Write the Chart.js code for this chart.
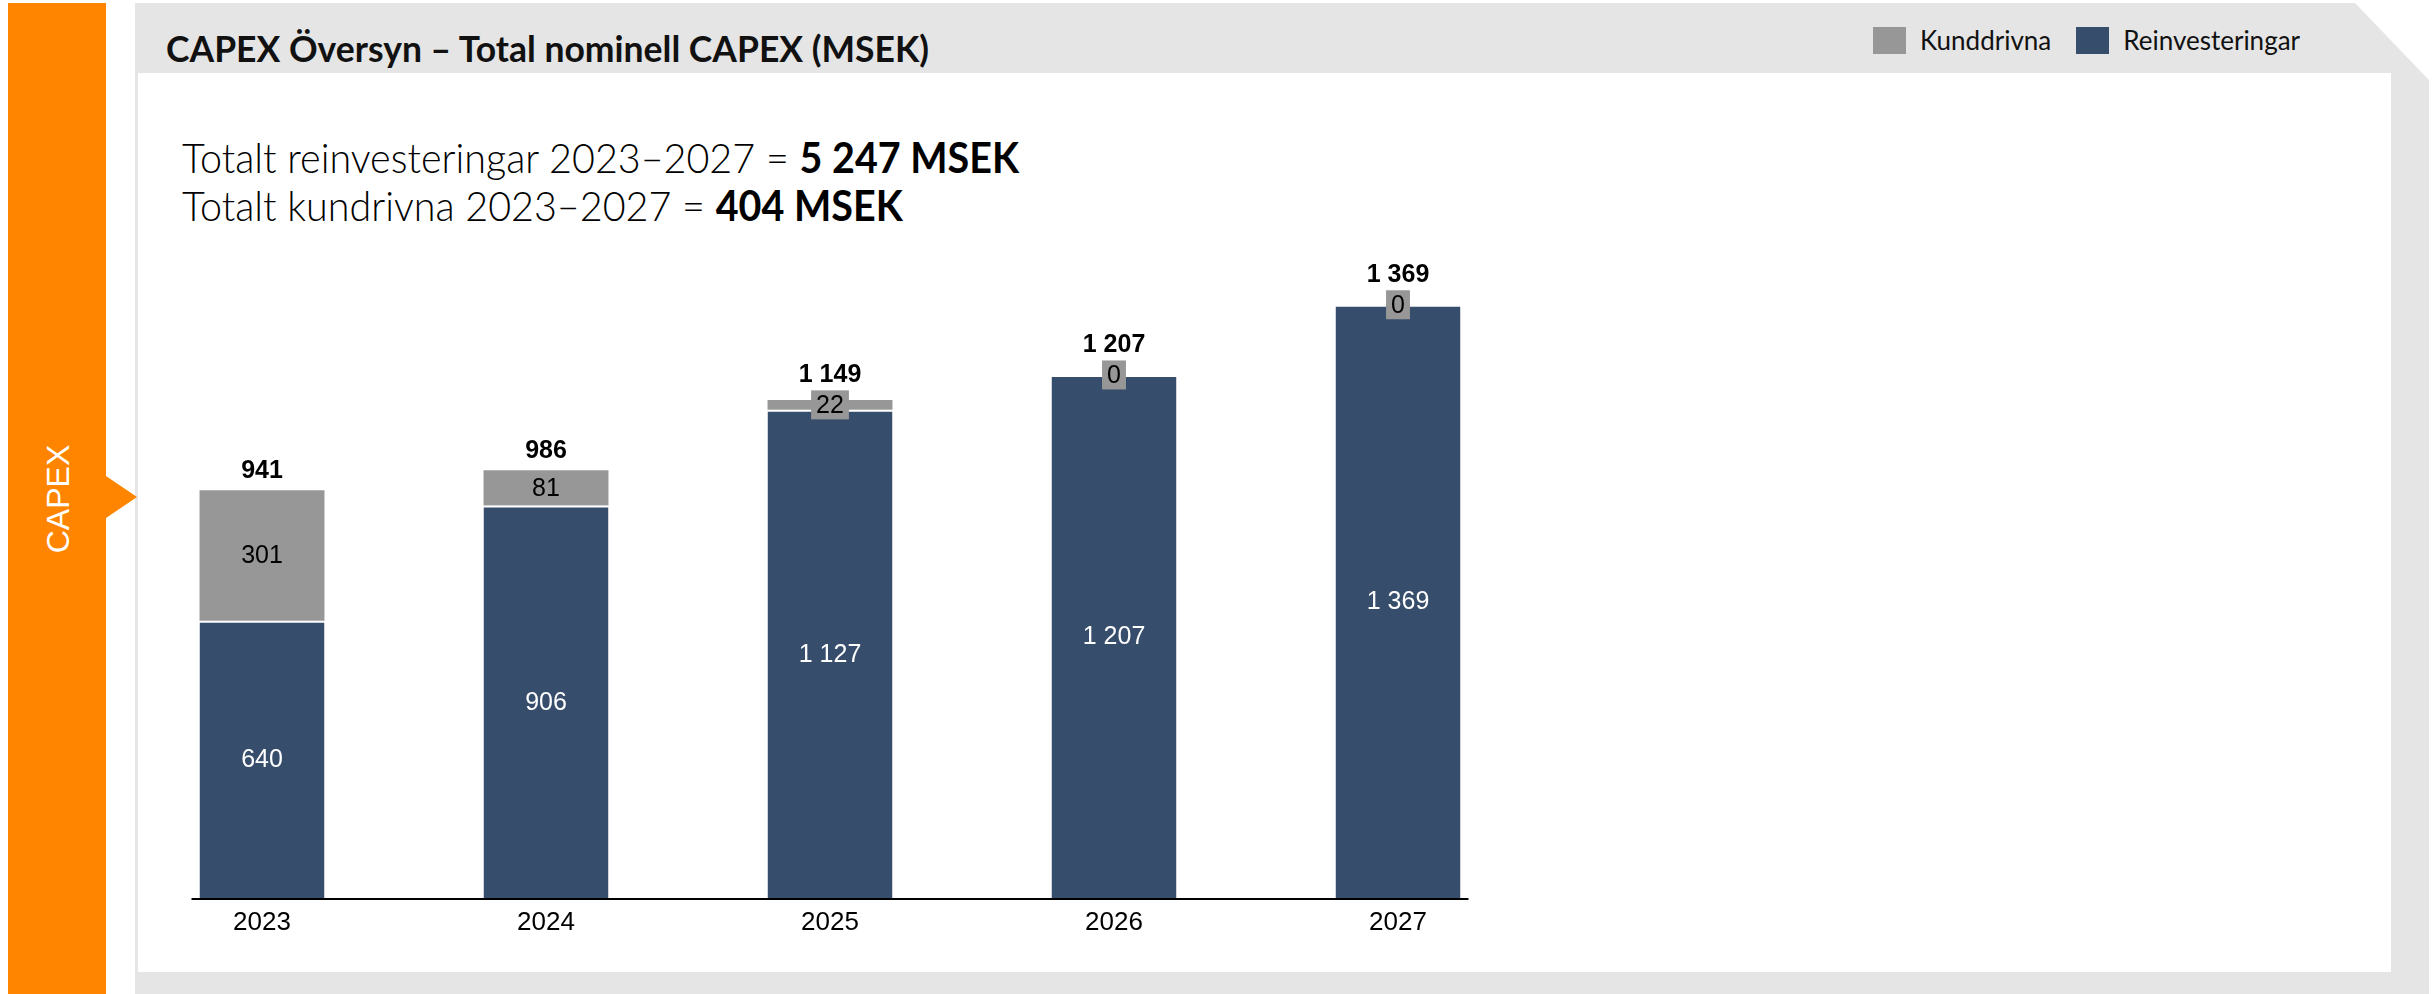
<!DOCTYPE html>
<html lang="sv">
<head>
<meta charset="utf-8">
<title>CAPEX Översyn</title>
<script src="https://cdn.jsdelivr.net/npm/chart.js@4/dist/chart.umd.min.js"></script>
<style>
  html, body { margin: 0; padding: 0; background: #fff; }
  body { width: 2435px; height: 994px; position: relative; overflow: hidden; font-family: Lato, "Noto Sans", sans-serif; }
  .abs { position: absolute; }
  #tab { left: 8px; top: 3px; width: 98px; height: 991px; background: #ff8500; }
  #tab-arrow { left: 106px; top: 476px; width: 0; height: 0; border-left: 31px solid #ff8500; border-top: 21px solid transparent; border-bottom: 21px solid transparent; }
  #tab-label { left: 58px; top: 499px; transform: translate(-50%, -50%) rotate(-90deg); color: #fff; font: 32px "Liberation Sans", Arial, sans-serif; white-space: nowrap; }
  #frame { left: 135px; top: 3px; width: 2294px; height: 991px; background: #e5e5e5; clip-path: polygon(0 0, calc(100% - 74px) 0, 100% 77px, 100% 100%, 0 100%); }
  #panel { left: 138px; top: 73px; width: 2253px; height: 899px; background: #fff; }
  #title { left: 166px; top: 31px; font-weight: 700; font-size: 35.5px; line-height: 36px; color: #111; white-space: nowrap; }
  .sub { left: 182px; font-weight: 300; font-size: 42px; line-height: 42px; color: #000; white-space: nowrap; transform: scaleX(0.94); transform-origin: 0 0; }
  .sub b { font-weight: 700; }
  #sub1 { top: 136px; }
  #sub2 { top: 184px; }
  #legend { left: 1873px; top: 24px; display: flex; align-items: center; font-size: 26px; color: #111; white-space: nowrap; }
  #legend .item { display: flex; align-items: center; margin-right: 25px; }
  #legend .swatch { width: 33px; height: 27px; margin-right: 14px; }
  canvas { position: absolute; left: 0; top: 0; }
</style>
</head>
<body>
<div id="frame" class="abs"></div>
<div id="panel" class="abs"></div>
<div id="tab" class="abs"></div>
<div id="tab-arrow" class="abs"></div>
<div id="tab-label" class="abs">CAPEX</div>

<div id="title" class="abs">CAPEX Översyn – Total nominell CAPEX (MSEK)</div>
<div id="sub1" class="abs sub">Totalt reinvesteringar 2023–2027 = <b>5 247 MSEK</b></div>
<div id="sub2" class="abs sub">Totalt kundrivna 2023–2027 = <b>404 MSEK</b></div>
<div id="legend" class="abs"></div>

<canvas id="capex" width="2435" height="994"></canvas>

<script>
const YEARS    = ['2023', '2024', '2025', '2026', '2027']
const REINVEST = [640, 906, 1127, 1207, 1369]
const KUND     = [301, 81, 22, 0, 0]
const TOTALS   = [941, 986, 1149, 1207, 1369]

const NAVY = '#374d6c'
const GRAY = '#979797'

const LABEL_FONT = '25px "Liberation Sans", Arial, sans-serif'
const TOTAL_FONT = 'bold 25px "Liberation Sans", Arial, sans-serif'

function formatSv(n) {
  return String(n).replace(/\B(?=(\d{3})+(?!\d))/g, ' ')
}

// value labels inside segments, small grey tags for thin segments, totals on top
const barLabels = {
  id: 'barLabels',
  afterDatasetsDraw(chart) {
    const ctx = chart.ctx
    const reMeta = chart.getDatasetMeta(0)
    const kuMeta = chart.getDatasetMeta(1)
    ctx.save()
    ctx.textAlign = 'center'
    YEARS.forEach((year, i) => {
      const re = reMeta.data[i]
      const ku = kuMeta.data[i]

      ctx.font = LABEL_FONT
      ctx.textBaseline = 'middle'
      ctx.fillStyle = '#fff'
      ctx.fillText(formatSv(REINVEST[i]), re.x, (re.y + re.base) / 2 + 1)

      const kMid = (ku.y + ku.base) / 2
      const kText = formatSv(KUND[i])
      let totalBase = Math.min(ku.y, re.y) - 12
      if (ku.base - ku.y < 29) {
        const w = ctx.measureText(kText).width + 10
        const h = 29
        ctx.fillStyle = GRAY
        ctx.fillRect(ku.x - w / 2, kMid - h / 2, w, h)
        totalBase = Math.min(totalBase, kMid - h / 2 - 8)
      }
      ctx.fillStyle = '#000'
      ctx.fillText(kText, ku.x, kMid + 1)

      ctx.font = TOTAL_FONT
      ctx.textBaseline = 'alphabetic'
      ctx.fillText(formatSv(TOTALS[i]), ku.x, totalBase)
    })
    ctx.restore()
  },
}

// baseline under the bars, a little wider than the outer bars
const baseLine = {
  id: 'baseLine',
  afterDatasetsDraw(chart) {
    const bars = chart.getDatasetMeta(0).data
    const first = bars[0], last = bars[bars.length - 1]
    const y = chart.chartArea.bottom + 1
    const ctx = chart.ctx
    ctx.save()
    ctx.strokeStyle = '#000'
    ctx.lineWidth = 2
    ctx.beginPath()
    ctx.moveTo(first.x - first.width / 2 - 8, y)
    ctx.lineTo(last.x + last.width / 2 + 8, y)
    ctx.stroke()
    ctx.restore()
  },
}

const datasets = [
  {
    label: 'Reinvesteringar',
    data: REINVEST,
    backgroundColor: NAVY,
    borderColor: '#fff',
    borderWidth: { top: 2, left: 0, right: 0, bottom: 0 },
    borderSkipped: false,
  },
  {
    label: 'Kunddrivna',
    data: KUND,
    backgroundColor: GRAY,
    borderWidth: 0,
  },
]

const chart = new Chart(document.getElementById('capex'), {
  type: 'bar',
  data: { labels: YEARS, datasets },
  options: {
    responsive: false,
    animation: false,
    devicePixelRatio: 1,
    datasets: { bar: { categoryPercentage: 1, barPercentage: 0.44 } },
    layout: { padding: { left: 120, right: 895, top: 248, bottom: 0 } },
    plugins: { legend: { display: false }, tooltip: { enabled: false } },
    scales: {
      x: {
        stacked: true,
        grid: { display: false, drawTicks: false },
        border: { display: false },
        ticks: { color: '#000', padding: 9, font: { size: 26, family: '"Liberation Sans", Arial, sans-serif' } },
        afterFit(scale) { scale.height = 96 },
      },
      y: { stacked: true, display: false, min: 0, max: 1500 },
    },
  },
  plugins: [barLabels, baseLine],
})

// legend in the header band, grey series first
const legend = document.getElementById('legend')
legend.innerHTML = [datasets[1], datasets[0]].map(d => `
  <div class="item"><span class="swatch" style="background:${d.backgroundColor}"></span>${d.label}</div>
`).join('')
</script>
</body>
</html>
